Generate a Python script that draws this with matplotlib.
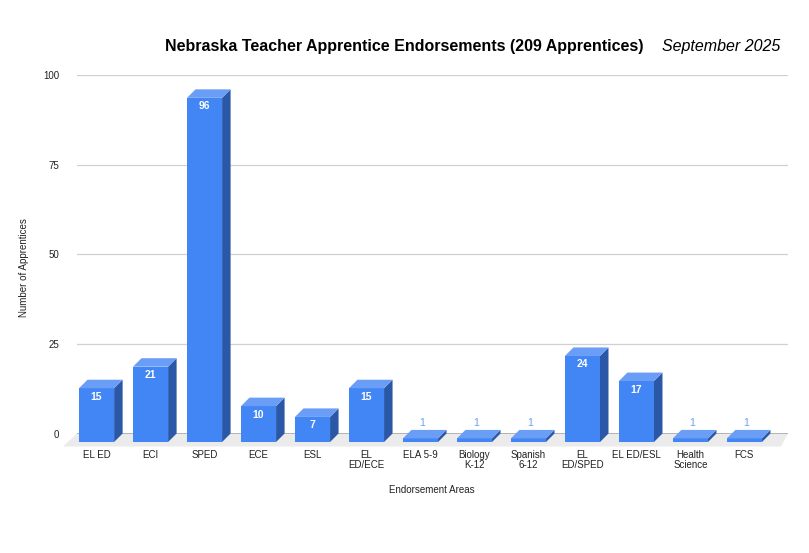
import matplotlib
matplotlib.use("Agg")
import matplotlib.pyplot as plt
from matplotlib.patches import Polygon
from matplotlib.transforms import IdentityTransform

plt.rcParams['font.family'] = ['Liberation Sans', 'DejaVu Sans']

categories = ["EL ED", "ECI", "SPED", "ECE", "ESL", "EL\nED/ECE", "ELA 5-9",
              "Biology\nK-12", "Spanish\n6-12", "EL\nED/SPED", "EL ED/ESL",
              "Health\nScience", "FCS"]
values = [15, 21, 96, 10, 7, 15, 1, 1, 1, 24, 17, 1, 1]
y_ticks = [0, 25, 50, 75, 100]
title = "Nebraska Teacher Apprentice Endorsements (209 Apprentices)"
subtitle = "September 2025"
x_title = "Endorsement Areas"
y_title = "Number of Apprentices"

W, H, DPI = 809, 553, 100
fig = plt.figure(figsize=(W / DPI, H / DPI), dpi=DPI)
L, R, B, T = 77, 788, 433.5, 75
ax = fig.add_axes([L / W, (H - B) / H, (R - L) / W, (B - T) / H])
ax.set_xlim(-0.52, 12.65)
ax.set_ylim(0, 100)
for s in ax.spines.values():
    s.set_visible(False)
ax.set_xticks([])
ax.set_yticks(y_ticks)
ax.tick_params(axis='y', length=0, pad=13, labelsize=7, labelcolor='#222222')
ax.yaxis.grid(True, color='#d0d0d0', linewidth=0.9)
ax.set_axisbelow(True)

FRONT = '#4285F4'
TOP = '#6A9DF6'
SIDE = '#2B57A7'
DX, DY = 8.5, 8.5
BAR_W = 0.65
ident = IdentityTransform()


def px(x, y):
    return ax.transData.transform((x, y))


# floor
xmin, xmax = ax.get_xlim()
bl = px(xmin, 0)
br = px(xmax, 0)
floor = [(bl[0], bl[1]), (br[0], br[1]), (br[0] - 7, br[1] - 13), (bl[0] - 14, bl[1] - 13)]
ax.add_patch(Polygon(floor, closed=True, transform=ident, facecolor='#ebebeb',
                     edgecolor='none', zorder=1, clip_on=False))
ax.axhline(0, color='#a8a8a8', linewidth=1.2, zorder=1.5)

for i, (cat, v) in enumerate(zip(categories, values)):
    p0 = px(i - BAR_W / 2, 0)
    p1 = px(i + BAR_W / 2, v)
    x0, y0 = p0
    x1, y1 = p1
    front = [(x0 - DX, y0 - DY), (x1 - DX, y0 - DY), (x1 - DX, y1 - DY), (x0 - DX, y1 - DY)]
    top = [(x0 - DX, y1 - DY), (x1 - DX, y1 - DY), (x1, y1), (x0, y1)]
    side = [(x1 - DX, y0 - DY), (x1, y0), (x1, y1), (x1 - DX, y1 - DY)]
    for poly, col in ((side, SIDE), (front, FRONT), (top, TOP)):
        ax.add_patch(Polygon(poly, closed=True, transform=ident, facecolor=col,
                             edgecolor='none', zorder=3, clip_on=False))
    cx = (x0 + x1) / 2 - DX
    if v >= 5:
        ax.text(cx, y1 - DY - 8.5, str(v), transform=ident, ha='center', va='center',
                color='white', fontsize=7.5, fontweight='bold', zorder=5)
    else:
        ax.text(cx + 2, y1 + 7, str(v), transform=ident, ha='center', va='center',
                color='#6A9DF6', fontsize=7.5, zorder=5)
    ax.text(cx, y0 - 16, cat, transform=ident, ha='center', va='top',
            color='#222222', fontsize=7, linespacing=1.0, zorder=5)

fig.text(404 / W, 1 - 46 / H, title, ha='center', va='center', fontsize=11.5,
         fontweight='bold', color='#000000')
fig.text(662 / W, 1 - 46 / H, subtitle, ha='left', va='center', fontsize=11.5,
         fontstyle='italic', color='#000000')
fig.text(432 / W, 1 - 490 / H, x_title, ha='center', va='center', fontsize=7,
         color='#222222')
fig.text(24 / W, 1 - 268 / H, y_title, ha='center', va='center', fontsize=7,
         color='#222222', rotation=90)

fig.savefig('out.png', dpi=DPI, facecolor='white')
